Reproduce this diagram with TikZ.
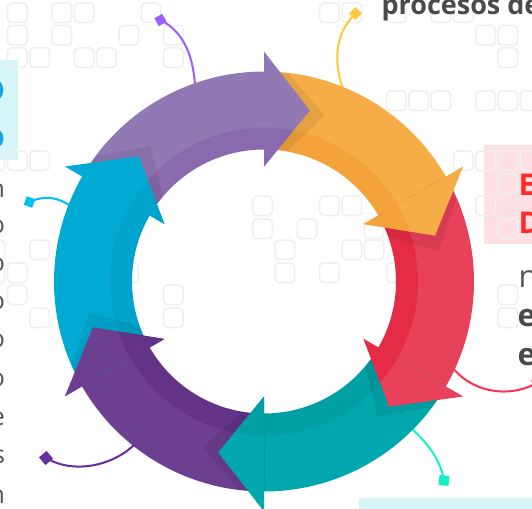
\documentclass[tikz,border=0pt]{standalone}
\usepackage{fontspec}
\setmainfont{Open Sans}
\definecolor{cP}{HTML}{9079B5}
\definecolor{cPd}{HTML}{8A6AAE}
\definecolor{cO}{HTML}{F7AD47}
\definecolor{cOd}{HTML}{F4A23B}
\definecolor{cR}{HTML}{E8415B}
\definecolor{cRd}{HTML}{E52B45}
\definecolor{cT}{HTML}{00A7AD}
\definecolor{cTd}{HTML}{009FA4}
\definecolor{cD}{HTML}{6C3F90}
\definecolor{cDd}{HTML}{633388}
\definecolor{cC}{HTML}{00AAD3}
\definecolor{cCd}{HTML}{00A3CB}
\definecolor{lP}{HTML}{9B5FFF}
\definecolor{lO}{HTML}{FFC83C}
\definecolor{lR}{HTML}{FF2E55}
\definecolor{lT}{HTML}{14F2C6}
\definecolor{lD}{HTML}{682D9C}
\definecolor{lC}{HTML}{00BEF7}
\definecolor{pinkbox}{HTML}{FDE0E3}
\definecolor{cyanbox}{HTML}{D6F5F7}
\definecolor{sqgray}{HTML}{EFEFEF}
\definecolor{txt}{HTML}{4A4A4A}
\definecolor{txtb}{HTML}{555555}
\definecolor{txtred}{HTML}{FF2B2B}
\definecolor{txtblue}{HTML}{17A4E0}
\tikzset{
 bgsq/.style={draw=sqgray, line width=1.5pt, rounded corners=4pt},
 callout/.style={line width=2pt},
 marker/.style={inner sep=0pt, minimum size=9pt, outer sep=0pt},
 lbl/.style={inner sep=0pt, outer sep=0pt},
}
\begin{document}
\begin{tikzpicture}[x=1pt,y=-1pt]
\useasboundingbox (0,0) rectangle (532,508);
\fill[white] (0,0) rectangle (532,508);
% text boxes
\fill[pinkbox] (484,145) rectangle (545,244);
\fill[cyanbox] (-10,60) rectangle (18,160);
\fill[cyanbox] (359,498) rectangle (545,520);
% background squares
\foreach \r/\ks in {2/{0,2,3,6,14,15,17,19,20}, 24.5/{0,2,5,7,21,22}, 47/{0,1,3,4,7,22}, 90/{17,18,19,21,22,23}, 150/{-1,0,1,20,21,22,23}, 173/{22}, 195/{11,14,15,21}, 218/{11,13,16,22}, 239/{-1,1,12,15,16}, 262/{-1,0,5,12,14,17}, 284/{0,7,22}, 307/{1,7,22}}{
  \foreach \k in \ks {
    \draw[bgsq] ({7.5+22.3*\k},{\r+1}) rectangle ++(19.5,19.5);
  }
}
% callouts
\coordinate (p1) at (195,86);
\node[marker, fill=lP, rotate=30] (m1) at (160.5,20) {};
\draw[callout, lP] (p1) .. controls (193,50) and (180,30) .. (m1.center);
\coordinate (p2) at (344,92);
\node[marker, fill=lO, rotate=45] (m2) at (355.5,13.5) {};
\draw[callout, lO] (p2) .. controls (334,65) and (333,35) .. (m2.center);
\coordinate (p3) at (452,367);
\node[marker, fill=lR, rotate=20] (m3) at (537,383) {};
\draw[callout, lR] (p3) .. controls (470,390) and (505,400) .. (m3.center);
\coordinate (p4) at (410,427);
\node[marker, fill=lT, rotate=-5, minimum size=10pt] (m4) at (444,480.5) {};
\draw[callout, lT] (p4) .. controls (430,445) and (441,462) .. (m4.center);
\coordinate (p5) at (136,443);
\node[marker, fill=lD, rotate=40, minimum size=10pt] (m5) at (46,458) {};
\draw[callout, lD] (p5) .. controls (115,465) and (75,475) .. (m5.center);
\coordinate (p6) at (72,207);
\node[marker, fill=lC, rotate=-20] (m6) at (29.5,202) {};
\draw[callout, lC] (p6) .. controls (58,197) and (45,195) .. (m6.center);
% ring
\begin{scope}[shift={(264,281.5)}]
\foreach \a/\b/\cb/\cd in {-150/-90/cP/cPd, -90/-30/cO/cOd, -30/30/cR/cRd, 30/90/cT/cTd, 90/150/cD/cDd, 150/210/cC/cCd}{
  \pgfmathsetmacro\bb{\b+0.6}
  \fill[\cb] plot[domain=\a:\bb, samples=61, variable=\t] (\t:153) -- plot[domain=\bb:\a, samples=61, variable=\t] (\t:210) -- cycle;
  \fill[\cd] plot[domain=\a:\bb, samples=61, variable=\t] (\t:132) -- plot[domain=\bb:\a, samples=61, variable=\t] (\t:154) -- cycle;
}
\foreach \ab/\cb/\cd in {-90/cP/cPd, -30/cO/cOd, 30/cR/cRd, 90/cT/cTd, 150/cD/cDd, 210/cC/cCd}{
  \pgfmathsetmacro\at{\ab+15}
  \pgfmathsetmacro\st{\ab+20}
  \begin{scope}[even odd rule]
    \clip plot[domain=0:360, samples=121, variable=\t] (\t:209.5) -- cycle plot[domain=360:0, samples=121, variable=\t] (\t:132.5) -- cycle;
    \fill[black, opacity=0.07] (\ab:236) -- (\st:177) -- (\ab:108) -- cycle;
  \end{scope}
  \fill[\cb] (\ab:230) -- (\at:177) -- (\ab:115) -- cycle;
  \begin{scope}
    \clip (0,0) circle[radius=154];
    \fill[\cd] (\ab:230) -- (\at:177) -- (\ab:115) -- cycle;
  \end{scope}
}
\end{scope}
% texts
\node[lbl, anchor=base west, text=txt, font=\bfseries\fontsize{27}{30}\selectfont] (tA) at (381.5,15) {procesos de};
\node[lbl, anchor=base west, text=txtred, font=\bfseries\fontsize{30}{32}\selectfont] (tE) at (518.5,195) {E};
\node[lbl, anchor=base west, text=txtred, font=\bfseries\fontsize{30}{32}\selectfont] (tD) at (518.5,233) {D};
\node[lbl, anchor=base west, text=txtb, font=\fontsize{31}{33}\selectfont] (tn) at (518.5,287) {n};
\node[lbl, anchor=base west, text=txt, font=\bfseries\fontsize{31}{33}\selectfont] (te1) at (517.5,326) {e};
\node[lbl, anchor=base west, text=txt, font=\bfseries\fontsize{31}{33}\selectfont] (te2) at (517.5,365) {e};
\foreach \ch/\yy [count=\i] in {n/197, o/233.5, o/271, o/309, o/347, o/386, e/425, s/463, n/503}{
  \node[lbl, anchor=base east, text=txtb, font=\fontsize{25}{27}\selectfont] (L\i) at (5,\yy) {\ch};
}
\node[lbl, anchor=base east, text=txtblue, font=\bfseries\fontsize{37}{40}\selectfont] (b1) at (5,100) {o};
\node[lbl, anchor=base east, text=txtblue, font=\bfseries\fontsize{32}{34}\selectfont] (b2) at (5,147.5) {o};
\end{tikzpicture}
\end{document}
